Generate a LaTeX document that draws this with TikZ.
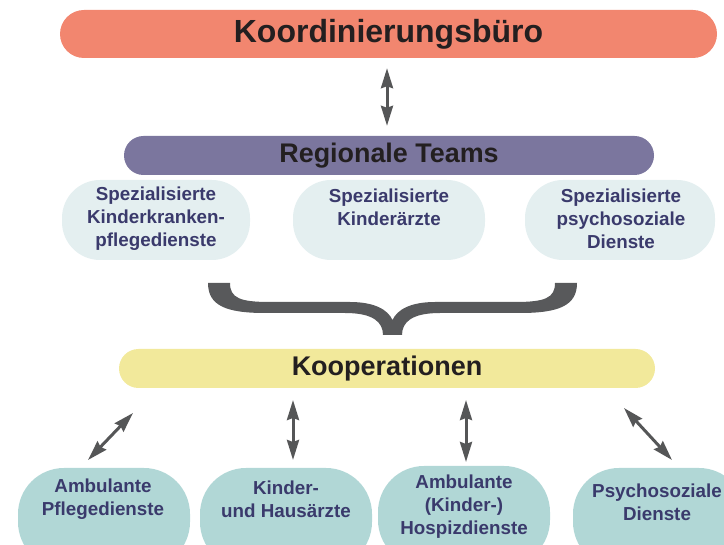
\documentclass[tikz,border=0pt]{standalone}
\usepackage{fontspec}
\setmainfont{Liberation Sans}
\usetikzlibrary{arrows.meta}
\definecolor{salmon}{HTML}{F2866F}
\definecolor{teampurple}{HTML}{7B769E}
\definecolor{lightbox}{HTML}{E4EFF0}
\definecolor{tealbox}{HTML}{B1D7D6}
\definecolor{koopyellow}{HTML}{F2E99B}
\definecolor{titletext}{HTML}{231F20}
\definecolor{navytext}{HTML}{3A3A6C}
\definecolor{arrowgray}{HTML}{555657}
\definecolor{bracegray}{HTML}{58595B}
\begin{document}
\begin{tikzpicture}[x=1pt,y=-1pt,
  bar/.style={inner sep=0pt, font=\bfseries, text=titletext},
  boxshape/.style={inner sep=0pt},
  smalltxt/.style={align=center, inner sep=0pt, text=navytext,
    font=\bfseries\fontsize{18.8}{23}\selectfont},
  arr/.style={draw=arrowgray, line width=3pt,
    {Stealth[length=20pt,width=12pt,inset=2pt]}-{Stealth[length=20pt,width=12pt,inset=2pt]}}
]
\useasboundingbox (0,0) rectangle (724,545);
\clip (0,0) rectangle (724,545);

% top bar
\node[bar, fill=salmon, minimum width=657pt, minimum height=48pt, rounded corners=24pt,
  font=\bfseries\fontsize{32}{36}\selectfont] (k) at (388.5,34) {Koordinierungsbüro};

% regional teams
\node[bar, fill=teampurple, minimum width=530pt, minimum height=39pt, rounded corners=19.5pt,
  font=\bfseries\fontsize{26.9}{30}\selectfont] (r) at (389,155.5) {Regionale Teams};

% specialised boxes
\node[boxshape, rounded corners=38pt, fill=lightbox, minimum width=188pt, minimum height=80pt] (s1) at (156,220) {};
\node[boxshape, rounded corners=38pt, fill=lightbox, minimum width=192pt, minimum height=80pt] (s2) at (389,220) {};
\node[boxshape, rounded corners=38pt, fill=lightbox, minimum width=190pt, minimum height=80pt] (s3) at (620,220) {};
\node[smalltxt] (s1t) at (156,219) {Spezialisierte\\Kinderkranken-\\pflegedienste};
\node[smalltxt] (s2t) at (389,207.5) {Spezialisierte\\Kinderärzte};
\node[smalltxt] (s3t) at (621,219) {Spezialisierte\\psychosoziale\\Dienste};

% brace
\fill[bracegray] (208,283) -- (230,283)
  .. controls (230,298) and (240,302) .. (270,302) -- (350,302)
  .. controls (375,302) and (388,310) .. (392.5,320)
  .. controls (397,310) and (410,302) .. (435,302) -- (515,302)
  .. controls (545,302) and (555,298) .. (555,283) -- (577,283)
  .. controls (577,305) and (560,313) .. (520,313) -- (440,313)
  .. controls (412,313) and (402,322) .. (402,335) -- (383,335)
  .. controls (383,322) and (373,313) .. (345,313) -- (265,313)
  .. controls (225,313) and (208,305) .. (208,283) -- cycle;

% Kooperationen
\node[bar, fill=koopyellow, minimum width=536pt, minimum height=39pt, rounded corners=19.5pt,
  font=\bfseries\fontsize{27}{30}\selectfont] (ko) at (387,368.5) {Kooperationen};

% bottom boxes
\node[boxshape, rounded corners=46pt, fill=tealbox, minimum width=172pt, minimum height=100pt] (b1) at (104,518) {};
\node[boxshape, rounded corners=46pt, fill=tealbox, minimum width=172pt, minimum height=100pt] (b2) at (286,518) {};
\node[boxshape, rounded corners=46pt, fill=tealbox, minimum width=172pt, minimum height=100pt] (b3) at (464,516) {};
\node[boxshape, rounded corners=46pt, fill=tealbox, minimum width=172pt, minimum height=100pt] (b4) at (659,518) {};
\node[smalltxt] (b1t) at (103,499) {Ambulante\\Pflegedienste};
\node[smalltxt] (b2t) at (286,499) {Kinder-\\und Hausärzte};
\node[smalltxt] (b3t) at (464,507) {Ambulante\\(Kinder-)\\Hospizdienste};
\node[smalltxt] (b4t) at (657,502) {Psychosoziale\\Dienste};

% arrows
\draw[arr, shorten <=10pt, shorten >=10pt] ([xshift=-1.5pt]k.south) -- ([xshift=-2pt]r.north);
\coordinate (a1s) at (133,413); \coordinate (a1e) at (88,460);
\coordinate (a2s) at (293,400); \coordinate (a2e) at (293,460);
\coordinate (a3s) at (466,400); \coordinate (a3e) at (466,462);
\coordinate (a4s) at (624,408); \coordinate (a4e) at (672,460);
\draw[arr] (a1s) -- (a1e);
\draw[arr] (a2s) -- (a2e);
\draw[arr] (a3s) -- (a3e);
\draw[arr] (a4s) -- (a4e);
\end{tikzpicture}
\end{document}
